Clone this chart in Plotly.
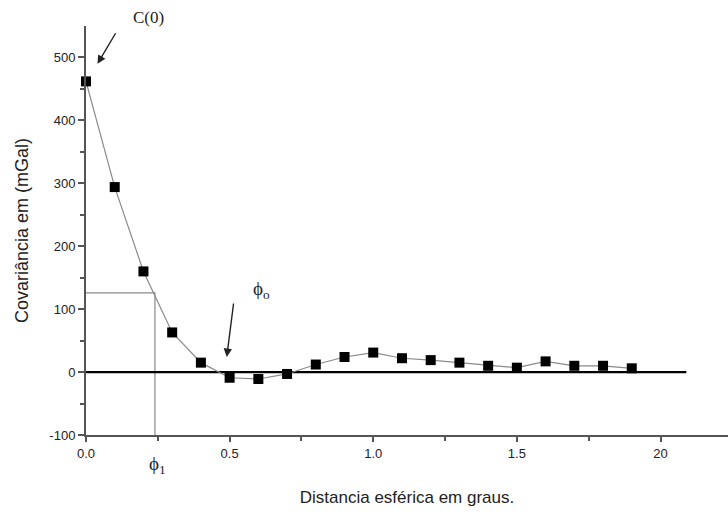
import plotly.graph_objects as go

# Data
dist = [0.0, 0.1, 0.2, 0.3, 0.4, 0.5, 0.6, 0.7, 0.8, 0.9,
        1.0, 1.1, 1.2, 1.3, 1.4, 1.5, 1.6, 1.7, 1.8, 1.9]
cov = [462, 294, 160, 63, 15, -9, -11, -3, 12, 24,
       31, 22, 19, 15, 10, 7, 17, 10, 10, 6]

x_tickvals = [0.0, 0.5, 1.0, 1.5, 2.0]
x_ticktext = ["0.0", "0.5", "1.0", "1.5", "20"]
y_tickvals = [-100, 0, 100, 200, 300, 400, 500]
y_ticktext = ["-100", "0", "100", "200", "300", "400", "500"]

zero_line_x = [0.0, 2.09]
zero_line_y = [0, 0]

phi1_x = 0.24
phi1_c = 126

fig = go.Figure()

# reference lines for phi1
fig.add_trace(go.Scatter(x=[0, phi1_x, phi1_x], y=[phi1_c, phi1_c, -100],
                         mode="lines", line=dict(color="#8a8a8a", width=1.2),
                         hoverinfo="skip", showlegend=False))
# zero line
fig.add_trace(go.Scatter(x=zero_line_x, y=zero_line_y, mode="lines",
                         line=dict(color="black", width=2.2),
                         hoverinfo="skip", showlegend=False))
# data
fig.add_trace(go.Scatter(x=dist, y=cov, mode="lines+markers",
                         line=dict(color="#8a8a8a", width=1.2),
                         marker=dict(symbol="square", size=10, color="black"),
                         cliponaxis=False, showlegend=False))

tick_font = dict(family="Liberation Sans Narrow, Arial Narrow, Liberation Sans, Arial",
                 size=13, color="#222")

fig.update_layout(
    width=728, height=517,
    margin=dict(l=86, r=0, t=26, b=82),
    plot_bgcolor="white", paper_bgcolor="white",
    xaxis=dict(range=[0, 2.235], showgrid=False, zeroline=False,
               showline=True, linecolor="#555", linewidth=2,
               tickvals=x_tickvals, ticktext=x_ticktext,
               ticks="outside", ticklen=5, tickwidth=1.5, tickcolor="#555",
               minor=dict(tickvals=[0.25, 0.75, 1.25, 1.75], ticks="outside",
                          ticklen=4, tickcolor="#555", tickwidth=1.5),
               tickfont=tick_font,
               title=dict(text="Distancia esférica em graus.",
                          font=dict(family="Liberation Sans, Arial", size=17, color="#222"),
                          standoff=32)),
    yaxis=dict(range=[-100, 550], showgrid=False, zeroline=False,
               showline=True, linecolor="#555", linewidth=2,
               tickvals=y_tickvals, ticktext=y_ticktext,
               ticks="outside", ticklen=6, tickwidth=1.5, tickcolor="#555",
               minor=dict(tickvals=[-50, 50, 150, 250, 350, 450], ticks="outside",
                          ticklen=4, tickcolor="#555", tickwidth=1.5),
               tickfont=tick_font,
               title=dict(text="Covariância em (mGal)",
                          font=dict(family="Liberation Sans, Arial", size=18, color="#222"),
                          standoff=16)),
    font=dict(family="Liberation Sans, Arial", color="#222"),
)

# C(0) arrow and label
fig.add_annotation(x=0.04, y=490, ax=19, ay=-32, text="", showarrow=True,
                   arrowhead=2, arrowsize=1.2, arrowwidth=1.4, arrowcolor="#222")
fig.add_annotation(xref="paper", yref="paper", x=0.097, y=1.02, text="C(0)",
                   xanchor="center", yanchor="middle", showarrow=False,
                   font=dict(family="Liberation Serif, Times New Roman", size=17, color="#222"))

# phi_o arrow and label
fig.add_annotation(x=0.49, y=24, ax=7, ay=-55, text="", showarrow=True,
                   arrowhead=2, arrowsize=1.2, arrowwidth=1.4, arrowcolor="#222")
fig.add_annotation(x=0.61, y=130, text="ϕ<sub>o</sub>", showarrow=False,
                   xanchor="center", yanchor="middle",
                   font=dict(family="Liberation Serif, Times New Roman", size=19, color="#222"))

# phi_1 label
fig.add_annotation(xref="paper", yref="paper", x=0.112, y=-0.073,
                   xanchor="center", yanchor="middle",
                   text="ϕ<sub>1</sub>", showarrow=False,
                   font=dict(family="Liberation Serif, Times New Roman", size=19, color="#222"))

fig.write_html("out.html")
